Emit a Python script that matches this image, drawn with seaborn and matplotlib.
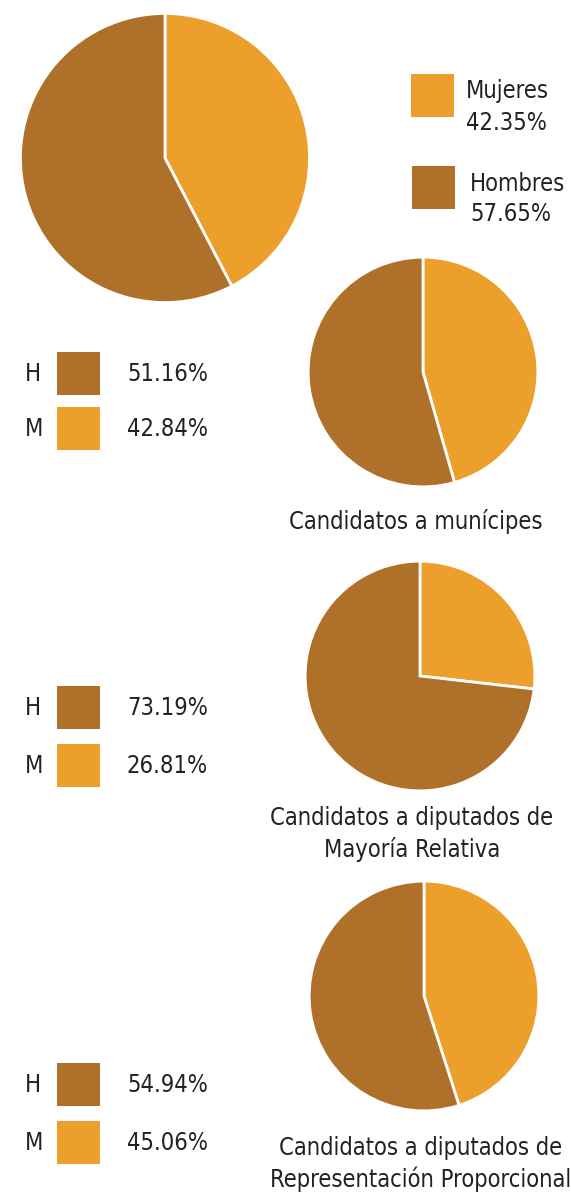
import matplotlib
matplotlib.use("Agg")
import matplotlib.pyplot as plt
import seaborn as sns
from matplotlib.patches import Rectangle

# shares
total_labels = ["Mujeres", "Hombres"]
total_values = [42.35, 57.65]

pie_titles = [
    "Candidatos a munícipes",
    "Candidatos a diputados de\nMayoría Relativa",
    "Candidatos a diputados de\nRepresentación Proporcional",
]
hombres = [51.16, 73.19, 54.94]
mujeres = [42.84, 26.81, 45.06]

ORANGE = "#EC9F2A"
BROWN = "#AF7129"
TEXT = "#222222"

W, H = 571, 1194

sns.set_theme(style="white")
plt.rcParams["font.family"] = ["DejaVu Sans"]
plt.rcParams["font.stretch"] = "condensed"

fig = plt.figure(figsize=(W / 100, H / 100), dpi=100)


def fx(x):
    return x / W


def fy(y):
    return 1 - y / H


def pie_at(cx, cy, r, values):
    ax = fig.add_axes([fx(cx - r), fy(cy + r), 2 * r / W, 2 * r / H])
    ax.pie(
        values,
        colors=[ORANGE, BROWN],
        startangle=90,
        counterclock=False,
        wedgeprops={"edgecolor": "white", "linewidth": 2},
    )
    ax.set_xlim(-1.01, 1.01)
    ax.set_ylim(-1.01, 1.01)
    ax.set_axis_off()
    return ax


def swatch(x, y, color, size=43):
    fig.add_artist(Rectangle((fx(x), fy(y + size)), size / W, size / H,
                             transform=fig.transFigure, facecolor=color,
                             edgecolor="none"))


def label(x, y, s, ha="left", size=17, spacing=1.2):
    fig.text(fx(x), fy(y), s, ha=ha, va="center", fontsize=size, color=TEXT,
             fontstretch="condensed", linespacing=spacing)


# big pie with total shares
pie_at(165, 158, 146, [total_values[0], total_values[1]])
swatch(411, 74, ORANGE)
label(466, 107, f"{total_labels[0]}\n{total_values[0]:.2f}%", spacing=1.45)
swatch(412, 166, BROWN)
label(470, 199, f"{total_labels[1]}\n{total_values[1]:.2f}%", spacing=1.3)

# three smaller pies with H / M keys
centers = [(423, 372), (420, 676), (424, 996)]
keys_y = [(352, 407), (686, 744), (1063, 1121)]
title_pos = [(416, 522), (412, 834), (421, 1164)]

for i, title in enumerate(pie_titles):
    cx, cy = centers[i]
    pie_at(cx, cy, 116, [mujeres[i], hombres[i]])
    yh, ym = keys_y[i]
    label(25, yh + 22, "H")
    swatch(57, yh, BROWN)
    label(127, yh + 22, f"{hombres[i]:.2f}%")
    label(25, ym + 22, "M")
    swatch(57, ym, ORANGE)
    label(127, ym + 22, f"{mujeres[i]:.2f}%")
    tx, ty = title_pos[i]
    label(tx, ty, title, ha="center", spacing=1.35)

fig.savefig("out.png", dpi=100)
